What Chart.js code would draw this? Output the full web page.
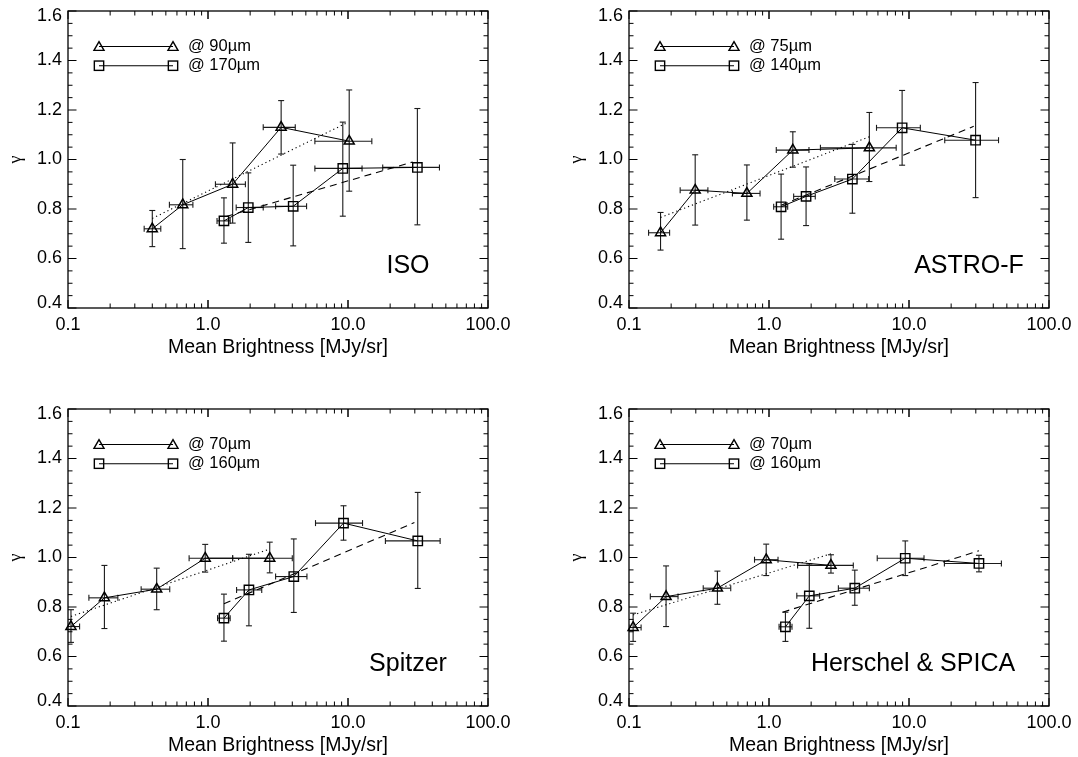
<!DOCTYPE html>
<html><head><meta charset="utf-8">
<script src="https://cdn.jsdelivr.net/npm/chart.js@4"></script>
<style>
html,body{margin:0;padding:0;background:#fff;}
#wrap{position:relative;width:1078px;height:757px;background:#fff;}
canvas{position:absolute;left:0;top:0;}
</style></head><body><div id="wrap">
<canvas id="c0" width="1078" height="757"></canvas>
<canvas id="c1" width="1078" height="757"></canvas>
<canvas id="c2" width="1078" height="757"></canvas>
<canvas id="c3" width="1078" height="757"></canvas>
</div>
<script>
// ---------- axis texts ----------
const xTickVals = [0.1, 1, 10, 100];
const xTickLabels = ['0.1', '1.0', '10.0', '100.0'];
const yTickVals = [0.4, 0.6, 0.8, 1.0, 1.2, 1.4, 1.6];
const yTickLabels = ['0.4', '0.6', '0.8', '1.0', '1.2', '1.4', '1.6'];
const xTitle = 'Mean Brightness [MJy/sr]';
const yTitle = 'γ';

// ---------- ISO ----------
const isoName = 'ISO';
const isoLegend = ['@ 90µm', '@ 170µm'];
const isoTriX = [0.40, 0.66, 1.50, 3.33, 10.2];
const isoTriY = [0.720, 0.817, 0.900, 1.130, 1.074];
const isoTriYErr = [[0.648, 0.794], [0.640, 1.000], [0.743, 1.067], [1.022, 1.238], [0.872, 1.281]];
const isoTriXErr = [[0.35, 0.46], [0.53, 0.78], [1.13, 1.85], [2.48, 4.20], [5.8, 14.8]];
const isoTriFit = [[0.40, 0.762], [9.8, 1.148]];
const isoSqX = [1.30, 1.94, 4.06, 9.18, 31.3];
const isoSqY = [0.752, 0.806, 0.811, 0.964, 0.968];
const isoSqYErr = [[0.662, 0.845], [0.665, 0.946], [0.651, 0.977], [0.771, 1.151], [0.736, 1.206]];
const isoSqXErr = [[1.16, 1.44], [1.59, 2.48], [3.04, 5.06], [5.8, 12.6], [17.7, 45]];
const isoSqFit = [[1.35, 0.77], [29, 0.99]];

// ---------- ASTRO-F ----------
const astroName = 'ASTRO-F';
const astroLegend = ['@ 75µm', '@ 140µm'];
const astroTriX = [0.168, 0.297, 0.695, 1.48, 5.21];
const astroTriY = [0.704, 0.876, 0.863, 1.038, 1.047];
const astroTriYErr = [[0.634, 0.786], [0.735, 1.019], [0.755, 0.978], [0.969, 1.112], [0.911, 1.190]];
const astroTriXErr = [[0.138, 0.195], [0.232, 0.366], [0.548, 0.863], [1.127, 1.93], [2.33, 8.1]];
const astroTriFit = [[0.168, 0.766], [5.21, 1.092]];
const astroSqX = [1.22, 1.84, 3.94, 8.93, 29.9];
const astroSqY = [0.809, 0.851, 0.921, 1.128, 1.078];
const astroSqYErr = [[0.678, 0.941], [0.733, 0.970], [0.783, 1.061], [0.977, 1.279], [0.846, 1.311]];
const astroSqXErr = [[1.08, 1.36], [1.50, 2.14], [2.95, 5.15], [5.86, 12.05], [18.0, 43.6]];
const astroSqFit = [[1.22, 0.815], [29.0, 1.134]];

// ---------- Spitzer ----------
const spitzerName = 'Spitzer';
const spitzerLegend = ['@ 70µm', '@ 160µm'];
const spitzerTriX = [0.105, 0.182, 0.430, 0.955, 2.76];
const spitzerTriY = [0.721, 0.837, 0.872, 0.997, 0.997];
const spitzerTriYErr = [[0.657, 0.789], [0.713, 0.968], [0.789, 0.957], [0.941, 1.053], [0.938, 1.062]];
const spitzerTriXErr = [[0.09, 0.121], [0.141, 0.227], [0.333, 0.533], [0.733, 1.50], [1.50, 4.0]];
const spitzerTriFit = [[0.105, 0.762], [2.76, 1.034]];
const spitzerSqX = [1.30, 1.96, 4.10, 9.29, 31.5];
const spitzerSqY = [0.755, 0.869, 0.923, 1.139, 1.067];
const spitzerSqYErr = [[0.662, 0.852], [0.724, 1.013], [0.778, 1.075], [1.070, 1.209], [0.875, 1.263]];
const spitzerSqXErr = [[1.17, 1.44], [1.60, 2.42], [3.04, 5.09], [5.86, 12.7], [18.5, 45.5]];
const spitzerSqFit = [[1.30, 0.813], [29.8, 1.141]];

// ---------- Herschel & SPICA ----------
const herschelName = 'Herschel & SPICA';
const herschelLegend = ['@ 70µm', '@ 160µm'];
const herschelTriX = [0.107, 0.184, 0.428, 0.955, 2.77];
const herschelTriY = [0.717, 0.842, 0.876, 0.991, 0.968];
const herschelTriYErr = [[0.661, 0.775], [0.721, 0.966], [0.811, 0.945], [0.927, 1.054], [0.937, 1.011]];
const herschelTriXErr = [[0.1, 0.122], [0.142, 0.224], [0.339, 0.533], [0.788, 1.16], [1.60, 4.0]];
const herschelTriFit = [[0.107, 0.768], [2.77, 1.015]];
const herschelSqX = [1.31, 1.94, 4.10, 9.40, 31.6];
const herschelSqY = [0.720, 0.845, 0.876, 0.997, 0.976];
const herschelSqYErr = [[0.661, 0.779], [0.714, 0.974], [0.807, 0.949], [0.927, 1.067], [0.942, 1.009]];
const herschelSqXErr = [[1.18, 1.46], [1.58, 2.30], [3.13, 5.21], [5.93, 12.8], [17.9, 45.7]];
const herschelSqFit = [[1.25, 0.779], [31.6, 1.027]];

// ---------- layout ----------
const W = 1078, H = 757;
const FONT = '"Liberation Sans", Arial, Helvetica, sans-serif';
const panels = [
  {id:'c0', box:{l:68, r:488, t:11, b:308}, name:isoName, nameCx:340, legend:isoLegend,
   tri:{x:isoTriX, y:isoTriY, xe:isoTriXErr, ye:isoTriYErr, fit:isoTriFit},
   sq:{x:isoSqX, y:isoSqY, xe:isoSqXErr, ye:isoSqYErr, fit:isoSqFit}},
  {id:'c1', box:{l:629, r:1049, t:11, b:308}, name:astroName, nameCx:340, legend:astroLegend,
   tri:{x:astroTriX, y:astroTriY, xe:astroTriXErr, ye:astroTriYErr, fit:astroTriFit},
   sq:{x:astroSqX, y:astroSqY, xe:astroSqXErr, ye:astroSqYErr, fit:astroSqFit}},
  {id:'c2', box:{l:68, r:488, t:409, b:706}, name:spitzerName, nameCx:340, legend:spitzerLegend,
   tri:{x:spitzerTriX, y:spitzerTriY, xe:spitzerTriXErr, ye:spitzerTriYErr, fit:spitzerTriFit},
   sq:{x:spitzerSqX, y:spitzerSqY, xe:spitzerSqXErr, ye:spitzerSqYErr, fit:spitzerSqFit}},
  {id:'c3', box:{l:629, r:1049, t:409, b:706}, name:herschelName, nameCx:284, legend:herschelLegend,
   tri:{x:herschelTriX, y:herschelTriY, xe:herschelTriXErr, ye:herschelTriYErr, fit:herschelTriFit},
   sq:{x:herschelSqX, y:herschelSqY, xe:herschelSqXErr, ye:herschelSqYErr, fit:herschelSqFit}}
];

function line(ctx, x1, y1, x2, y2) {
  ctx.beginPath(); ctx.moveTo(x1, y1); ctx.lineTo(x2, y2); ctx.stroke();
}
function triangle(ctx, x, y, r) {
  const h = r * Math.sqrt(3) / 2;
  ctx.beginPath();
  ctx.moveTo(x, y - r); ctx.lineTo(x + h, y + r / 2); ctx.lineTo(x - h, y + r / 2); ctx.closePath(); ctx.stroke();
}
function square(ctx, x, y, r) {
  const s = r * Math.SQRT1_2;
  ctx.strokeRect(x - s, y - s, 2 * s, 2 * s);
}
const TRI_R = 5.8, SQ_R = 6.6;

const figurePlugin = {
  id: 'figure',
  beforeDatasetsDraw(chart) {
    const P = chart.config.options.plugins.figure.panel;
    const xs = chart.scales.x, ys = chart.scales.y, ctx = chart.ctx, a = chart.chartArea;
    ctx.save();
    ctx.beginPath(); ctx.rect(a.left, a.top, a.right - a.left, a.bottom - a.top); ctx.clip();
    ctx.strokeStyle = '#1a1a1a'; ctx.lineWidth = 1.1;
    for (const S of [P.tri, P.sq]) {
      for (let i = 0; i < S.x.length; i++) {
        const px = xs.getPixelForValue(S.x[i]), py = ys.getPixelForValue(S.y[i]);
        const y1 = ys.getPixelForValue(S.ye[i][0]), y2 = ys.getPixelForValue(S.ye[i][1]);
        line(ctx, px, y1, px, y2);
        line(ctx, px - 3, y1, px + 3, y1); line(ctx, px - 3, y2, px + 3, y2);
        const x1 = xs.getPixelForValue(S.xe[i][0]), x2 = xs.getPixelForValue(S.xe[i][1]);
        line(ctx, x1, py, x2, py);
        line(ctx, x1, py - 3, x1, py + 3); line(ctx, x2, py - 3, x2, py + 3);
      }
    }
    ctx.restore();
  },
  afterDraw(chart) {
    const P = chart.config.options.plugins.figure.panel;
    const xs = chart.scales.x, ys = chart.scales.y, ctx = chart.ctx, a = chart.chartArea;
    const L = a.left, R = a.right, T = a.top, B = a.bottom;
    ctx.save();
    ctx.strokeStyle = '#000'; ctx.lineWidth = 1.3;
    ctx.strokeRect(L, T, R - L, B - T);
    ctx.lineWidth = 1;
    // x ticks (major + minor) on bottom and top
    for (let d = 0.1; d < 50; d *= 10) {
      for (let m = 1; m <= 10; m++) {
        const v = d * m;
        if (v > 100.0001) continue;
        const px = xs.getPixelForValue(v);
        const len = (m === 1 || m === 10) ? 8 : 4.5;
        line(ctx, px, B, px, B - len);
        line(ctx, px, T, px, T + len);
      }
    }
    // y ticks
    for (let k = 0; k <= 24; k++) {
      const v = 0.4 + k * 0.05;
      const py = ys.getPixelForValue(v);
      const len = (k % 4 === 0) ? 8.5 : 4.5;
      line(ctx, L, py, L + len, py);
      line(ctx, R, py, R - len, py);
    }
    // tick labels
    ctx.fillStyle = '#000';
    ctx.font = '18px ' + FONT;
    ctx.textAlign = 'center'; ctx.textBaseline = 'middle';
    xTickVals.forEach((v, i) => ctx.fillText(xTickLabels[i], xs.getPixelForValue(v), B + 17));
    ctx.textAlign = 'right';
    yTickVals.forEach((v, i) => {
      let py = ys.getPixelForValue(v);
      if (i === 0) py -= 5;
      if (i === yTickVals.length - 1) py += 5;
      ctx.fillText(yTickLabels[i], L - 6, py);
    });
    // axis titles
    ctx.textAlign = 'center';
    ctx.font = '19.5px ' + FONT;
    ctx.fillText(xTitle, (L + R) / 2, B + 40);
    ctx.save();
    ctx.translate(L - 52, (T + B) / 2);
    ctx.rotate(-Math.PI / 2);
    ctx.font = '18px "Liberation Serif", "DejaVu Serif", serif';
    ctx.fillText(yTitle, 0, 0);
    ctx.restore();
    // legend
    const lx1 = L + 31, lx2 = L + 105, r1 = T + 35.5, r2 = T + 54.7;
    ctx.lineWidth = 1.1;
    line(ctx, lx1, r1, lx2, r1);
    line(ctx, lx1, r2, lx2, r2);
    ctx.lineWidth = 1.4;
    triangle(ctx, lx1, r1 + 1, TRI_R); triangle(ctx, lx2, r1 + 1, TRI_R);
    square(ctx, lx1, r2, SQ_R); square(ctx, lx2, r2, SQ_R);
    ctx.font = '16.5px ' + FONT;
    ctx.textAlign = 'left';
    ctx.fillText(P.legend[0], L + 120, r1);
    ctx.fillText(P.legend[1], L + 120, r2);
    // panel name
    ctx.font = '25px ' + FONT;
    ctx.textAlign = 'center';
    ctx.fillText(P.name, L + P.nameCx, T + 255);
    ctx.restore();
  }
};

function pts(xa, ya) { return xa.map((x, i) => ({x: x, y: ya[i]})); }
function fitPts(f) { return f.map(p => ({x: p[0], y: p[1]})); }

panels.forEach(P => {
  const b = P.box;
  new Chart(document.getElementById(P.id), {
    type: 'line',
    data: {
      datasets: [
        {data: pts(P.tri.x, P.tri.y), borderColor: '#000', borderWidth: 1, tension: 0,
         pointStyle: 'triangle', pointRadius: TRI_R, pointBorderWidth: 1.5,
         pointBorderColor: '#000', pointBackgroundColor: 'rgba(0,0,0,0)', clip: false},
        {data: pts(P.sq.x, P.sq.y), borderColor: '#000', borderWidth: 1, tension: 0,
         pointStyle: 'rect', pointRadius: SQ_R, pointBorderWidth: 1.4,
         pointBorderColor: '#000', pointBackgroundColor: 'rgba(0,0,0,0)', clip: false},
        {data: fitPts(P.tri.fit), borderColor: '#000', borderWidth: 1.1, borderDash: [1.2, 3],
         pointRadius: 0, tension: 0},
        {data: fitPts(P.sq.fit), borderColor: '#000', borderWidth: 1.1, borderDash: [7, 5],
         pointRadius: 0, tension: 0}
      ]
    },
    options: {
      responsive: false, animation: false, events: [],
      layout: {padding: {left: b.l, top: b.t, right: W - b.r, bottom: H - b.b}},
      plugins: {legend: {display: false}, tooltip: {enabled: false}, figure: {panel: P}},
      scales: {
        x: {type: 'logarithmic', min: 0.1, max: 100,
            ticks: {display: false}, grid: {display: false, drawTicks: false}, border: {display: false},
            afterFit(s) { s.height = 0; }},
        y: {type: 'linear', min: 0.4, max: 1.6,
            ticks: {display: false}, grid: {display: false, drawTicks: false}, border: {display: false},
            afterFit(s) { s.width = 0; }}
      }
    },
    plugins: [figurePlugin]
  });
});
</script>
</body></html>
